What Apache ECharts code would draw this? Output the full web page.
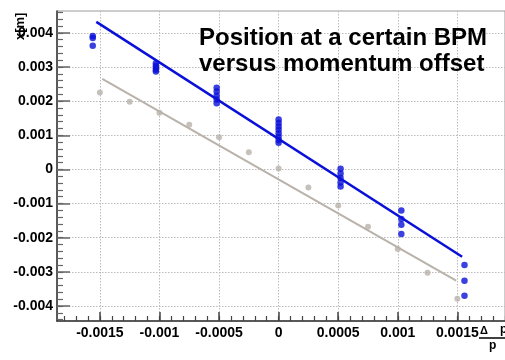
<!DOCTYPE html>
<html><head><meta charset="utf-8">
<script src="https://cdn.jsdelivr.net/npm/echarts@6/dist/echarts.min.js"></script>
<style>html,body{margin:0;padding:0;background:#fff}#c{width:505px;height:360px}</style>
</head><body><div id="c"></div>
<script>
// ---- data ----
const xTickLabels = [-0.0015, -0.001, -0.0005, 0, 0.0005, 0.001, 0.0015];
const yTickLabels = [-0.004, -0.003, -0.002, -0.001, 0, 0.001, 0.002, 0.003, 0.004];
const xRange = [-0.00186, 0.0019];
const yRange = [-0.00444, 0.00464];

const bluePoints = [
  [-0.00156, 0.00391], [-0.00156, 0.00385], [-0.00156, 0.00362],
  [-0.00103, 0.00311], [-0.00103, 0.00304], [-0.00103, 0.00298], [-0.00103, 0.00292], [-0.00103, 0.00287],
  [-0.00052, 0.00239], [-0.00052, 0.00228], [-0.00052, 0.00216], [-0.00052, 0.00205], [-0.00052, 0.00194],
  [0, 0.00146], [0, 0.00136], [0, 0.00126], [0, 0.00116], [0, 0.00106], [0, 0.00096], [0, 0.00086], [0, 0.00078],
  [0.00052, 0.00002], [0.00052, -0.00012], [0.00052, -0.00025], [0.00052, -0.00038], [0.00052, -0.0005],
  [0.00103, -0.0012], [0.00103, -0.00145], [0.00103, -0.00162], [0.00103, -0.00189],
  [0.00156, -0.0028], [0.00156, -0.00326], [0.00156, -0.0037]
];
const blueFit = [[-0.00153, 0.00432], [0.00154, -0.00256]];

const grayPoints = [
  [-0.0015, 0.00225], [-0.00125, 0.00198], [-0.001, 0.00166], [-0.00075, 0.00131],
  [-0.0005, 0.00094], [-0.00025, 0.0005], [0, 0.00003], [0.00025, -0.00053],
  [0.0005, -0.00106], [0.00075, -0.00168], [0.001, -0.00233], [0.00125, -0.00303], [0.0015, -0.00379]
];
const grayFit = [[-0.00148, 0.00265], [0.00149, -0.00326]];

const titleText = 'Position at a certain BPM\nversus momentum offset';
const yTitle = 'x[m]';

// minor tick positions (5 divisions per major step)
function minors(majors, step, lo, hi) {
  const out = [];
  const start = majors[0] - step;
  for (let k = 0; ; k++) {
    const v = +(start + k * step / 5).toFixed(6);
    if (v > hi) break;
    if (v >= lo) out.push(v);
  }
  return out;
}
const xMinor = minors(xTickLabels, 0.0005, xRange[0], xRange[1]);
const yMinor = minors(yTickLabels, 0.001, yRange[0], yRange[1]);

const FONT = "'Liberation Sans', Arial, sans-serif";
const blue = '#0a10d8';
const gray = '#b9b2aa';

const chart = echarts.init(document.getElementById('c'), null, {renderer: 'canvas'});
chart.setOption({
  animation: false,
  backgroundColor: '#fff',
  title: {
    text: titleText, left: 199, top: 25, padding: 0,
    textStyle: {fontFamily: FONT, fontSize: 24, fontWeight: 'bold', color: '#000', lineHeight: 26}
  },
  grid: {left: 57, top: 11, width: 459, height: 310, containLabel: false, show: true,
         borderColor: '#9a9a9a', borderWidth: 1, backgroundColor: '#fff'},
  xAxis: [{
    type: 'value', min: xRange[0], max: xRange[1], position: 'bottom',
    axisLine: {show: true, onZero: false, lineStyle: {color: '#333', width: 1.5}},
    axisTick: {show: true, inside: true, length: 9, customValues: xTickLabels, lineStyle: {color: '#444', width: 1.5}},
    axisLabel: {customValues: xTickLabels, fontFamily: FONT, fontSize: 14, fontWeight: 'bold', color: '#000', margin: 5,
                formatter: v => String(v)},
    splitLine: {show: true, lineStyle: {color: '#bbb', type: [1.5, 1.5], width: 1}}
  }, {
    type: 'value', min: xRange[0], max: xRange[1], position: 'bottom',
    axisLine: {show: false, onZero: false},
    axisTick: {show: true, inside: true, length: 5, customValues: xMinor, lineStyle: {color: '#444', width: 1.2}},
    axisLabel: {show: false}, splitLine: {show: false}
  }],
  yAxis: [{
    type: 'value', min: yRange[0], max: yRange[1], position: 'left',
    axisLine: {show: true, onZero: false, lineStyle: {color: '#333', width: 1.5}},
    axisTick: {show: true, inside: true, length: 13, customValues: yTickLabels, lineStyle: {color: '#666', width: 1.5}},
    axisLabel: {customValues: yTickLabels, fontFamily: FONT, fontSize: 14, fontWeight: 'bold', color: '#000', margin: 4,
                formatter: v => String(v)},
    splitLine: {show: true, lineStyle: {color: '#bbb', type: [1.5, 1.5], width: 1}}
  }, {
    type: 'value', min: yRange[0], max: yRange[1], position: 'left',
    axisLine: {show: false, onZero: false},
    axisTick: {show: true, inside: true, length: 6, customValues: yMinor, lineStyle: {color: '#666', width: 1.2}},
    axisLabel: {show: false}, splitLine: {show: false}
  }],
  graphic: [
    {type: 'text', x: 14, y: 40, rotation: Math.PI / 2, z: 100,
     style: {text: yTitle, font: "bold 13px " + FONT, fill: '#000', textAlign: 'left', textVerticalAlign: 'top'}},
    {type: 'text', left: 480, top: 325, z: 100,
     style: {text: 'Δ', font: "bold 11px " + FONT, fill: '#000'}},
    {type: 'text', left: 500, top: 324, z: 100,
     style: {text: 'p', font: "bold 12px " + FONT, fill: '#000'}},
    {type: 'line', z: 100, shape: {x1: 479, y1: 338, x2: 510, y2: 338}, style: {stroke: '#000', lineWidth: 1.5}},
    {type: 'text', left: 489, top: 340, z: 100,
     style: {text: 'p', font: "bold 12px " + FONT, fill: '#000'}}
  ],
  series: [
    {type: 'line', data: grayFit, symbol: 'none', lineStyle: {color: gray, width: 2}, z: 3, silent: true},
    {type: 'scatter', data: grayPoints, symbol: 'circle', symbolSize: 6, itemStyle: {color: gray}, z: 4},
    {type: 'line', data: blueFit, symbol: 'none', lineStyle: {color: blue, width: 2.5}, z: 5, silent: true},
    {type: 'scatter', data: bluePoints, symbol: 'circle', symbolSize: 6.5, itemStyle: {color: blue}, z: 6}
  ]
});
</script>
</body></html>
